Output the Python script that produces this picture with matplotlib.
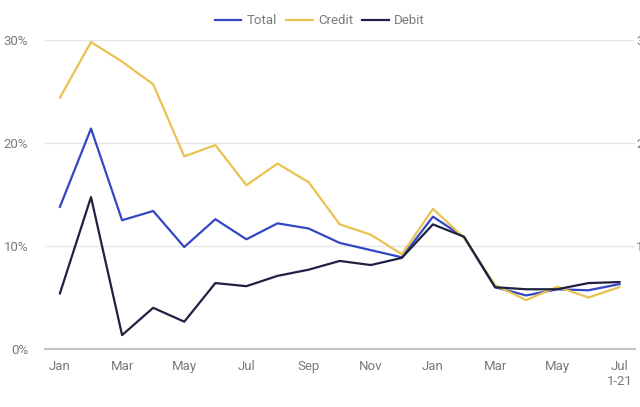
import matplotlib
matplotlib.use('Agg')
import matplotlib.pyplot as plt
from matplotlib.ticker import FuncFormatter

# monthly values, Jan 2020 .. Jul 2021 (percent)
months = list(range(19))
total = [13.8, 21.4, 12.5, 13.4, 9.9, 12.6, 10.65, 12.2, 11.7, 10.3, 9.6, 8.9,
         12.85, 10.85, 6.0, 5.2, 5.8, 5.7, 6.3]
credit = [24.4, 29.8, 27.9, 25.7, 18.7, 19.8, 15.9, 18.0, 16.2, 12.1, 11.1, 9.2,
          13.6, 10.8, 6.2, 4.75, 6.05, 5.0, 6.0]
debit = [5.4, 14.75, 1.35, 4.0, 2.65, 6.4, 6.1, 7.1, 7.7, 8.55, 8.15, 8.85,
         12.1, 10.9, 6.0, 5.8, 5.8, 6.4, 6.5]
tick_pos = [0, 2, 4, 6, 8, 10, 12, 14, 16, 18]
tick_labels = ['Jan', 'Mar', 'May', 'Jul', 'Sep', 'Nov', 'Jan', 'Mar', 'May', 'Jul\n1-21']

grey = '#7a7a7a'
plt.rcParams['font.family'] = ['Roboto', 'DejaVu Sans']

fig = plt.figure(figsize=(6.4, 4.07), dpi=100)
ax = fig.add_axes([45/640, 58/407, 590/640, 309/407])

ax.plot(months, total, color='#3346c4', lw=1.6, label='Total')
ax.plot(months, credit, color='#e9c24f', lw=1.6, label='Credit')
ax.plot(months, debit, color='#1e2240', lw=1.6, label='Debit')

ax.set_xlim(-0.48, 18.5)
ax.set_ylim(0, 30)
ax.set_yticks([0, 10, 20, 30])
ax.yaxis.set_major_formatter(FuncFormatter(lambda v, p: '%d%%' % v))
ax.set_xticks(tick_pos)
ax.set_xticklabels(tick_labels)
ax.grid(axis='y', color='#e6e6e6', lw=1)
ax.set_axisbelow(True)
for s in ['top', 'right', 'left']:
    ax.spines[s].set_visible(False)
ax.spines['bottom'].set_color('#c4c4c4')
ax.spines['bottom'].set_linewidth(1.5)
ax.tick_params(axis='both', length=0, colors=grey, labelsize=9.5)
ax.tick_params(axis='y', pad=12)
ax.tick_params(axis='x', pad=8)

# right axis, cut off by the picture edge as in the source
ax2 = ax.twinx()
ax2.set_ylim(0, 30)
ax2.set_yticks([10, 20, 30])
ax2.yaxis.set_major_formatter(FuncFormatter(lambda v, p: '%d%%' % v))
ax2.tick_params(axis='y', length=0, colors=grey, labelsize=9.5, pad=1)
for s in ax2.spines.values():
    s.set_visible(False)

leg = ax.legend(loc='center', bbox_to_anchor=(0.466, 1.062), ncol=3, frameon=False,
                fontsize=9.5, handlelength=2.0, columnspacing=0.7, handletextpad=0.4)
for t in leg.get_texts():
    t.set_color(grey)

fig.savefig('out.png', dpi=100)
